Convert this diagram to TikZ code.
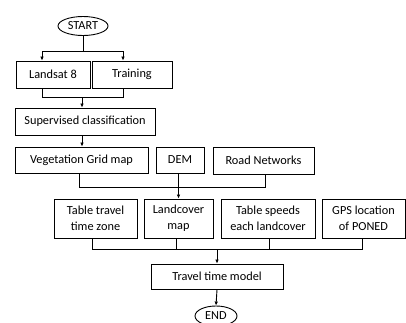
\documentclass[tikz,border=0pt]{standalone}
\usepackage{fontspec}
\setmainfont{Carlito}
\usetikzlibrary{arrows.meta,shapes.geometric}
\begin{document}
\begin{tikzpicture}[x=1pt,y=-1pt,
  every node/.style={font=\fontsize{12.3}{15.8}\selectfont, inner sep=0pt},
  box/.style={draw, line width=0.9pt, rectangle, align=center},
  term/.style={draw, line width=0.9pt, ellipse},
  link/.style={line width=0.9pt},
  flow/.style={link, -{Latex[length=4pt,width=3.6pt]}}]
\useasboundingbox (0,0) rectangle (406,322);

% terminals
\node[term, minimum width=50pt, minimum height=19pt] (start) at (83,26) {START};
\node[term, minimum width=42pt, minimum height=20pt] (end) at (216,316) {END};

% inputs
\node[box, minimum width=74pt, minimum height=27pt] (landsat) at (53,74.5) {Landsat 8};
\node[box, minimum width=80pt, minimum height=27pt] (training) at (132,74.5) {Training};
\node[box, minimum width=140pt, minimum height=27pt] (superv) at (85,121.5) {Supervised classification};

% maps
\node[box, minimum width=133pt, minimum height=26pt] (veg) at (81.5,160) {Vegetation Grid map};
\node[box, minimum width=48pt, minimum height=26pt] (dem) at (180,160) {DEM};
\node[box, minimum width=101pt, minimum height=27pt] (road) at (263.5,160.5) {Road Networks};

% model inputs
\node[box, minimum width=83pt, minimum height=39pt] (ttz) at (95.5,218.5) {Table travel\\time zone};
\node[box, minimum width=69pt, minimum height=39pt] (land) at (178.5,218.5) {Landcover\\map};
\node[box, minimum width=94pt, minimum height=39pt] (tspd) at (268,218.5) {Table speeds\\each landcover};
\node[box, minimum width=83pt, minimum height=39pt] (gps) at (363.5,218.5) {GPS location\\of PONED};

\node[box, minimum width=132pt, minimum height=25pt] (ttm) at (217,276.5) {Travel time model};

% START fork
\draw[link] (start.south) -- ++(0,15) coordinate (f1);
\draw[flow] (f1) -| ([xshift=-11pt]landsat.north);
\draw[flow] (f1) -| ([xshift=-9pt]training.north);

% join into classification
\draw[link] ([xshift=-11pt]landsat.south) -- ++(0,9) coordinate (j1) -| ([xshift=-9pt]training.south);
\coordinate (j1a) at (82,97);
\draw[flow] (j1a) -- ([xshift=-3pt]superv.north);

% classification to vegetation map
\draw[flow] ([xshift=-3pt]superv.south) -- ([xshift=-3pt]superv.south |- veg.north);

% vegetation and roads joined, DEM to landcover
\draw[link] ([xshift=-2.5pt]veg.south) -- ++(0,14) -| ([xshift=1.5pt]road.south);
\draw[flow] (land.north |- dem.south) -- (land.north);

% join into travel time model
\draw[link] ([xshift=-3.5pt]ttz.south) -- ++(0,11) coordinate (j3) -| ([xshift=-1.5pt]gps.south);
\draw[link] ([xshift=-2.5pt]land.south) -- ++(0,11);
\draw[link] ([xshift=1pt]tspd.south) -- ++(0,11);
\draw[flow] (j3 -| ttm.north) -- (ttm.north);

% model to END
\draw[flow] (ttm.south) -- (end.north);
\end{tikzpicture}
\end{document}
